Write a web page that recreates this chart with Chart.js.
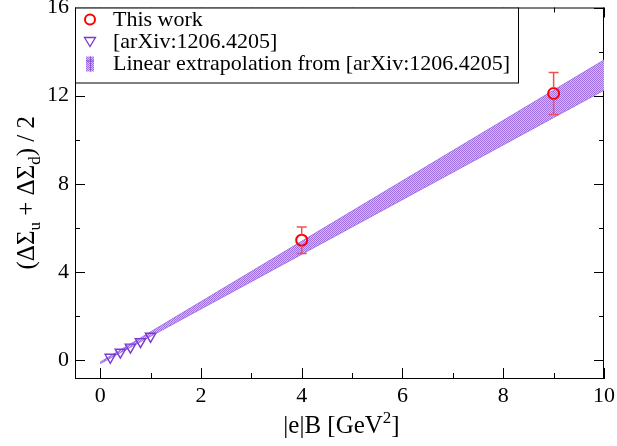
<!DOCTYPE html>
<html>
<head>
<meta charset="utf-8">
<script src="https://cdn.jsdelivr.net/npm/chart.js@4/dist/chart.umd.min.js"></script>
<style>
  body { margin: 0; background: #fff; }
  canvas { display: block; }
</style>
</head>
<body>
<canvas id="chart" width="617" height="446"></canvas>
<script>
// values
const thisWorkX = [4, 9];
const thisWorkY = [5.45, 12.1];
const thisWorkErr = [0.6, 0.95];

const arxivX = [0.2, 0.4, 0.6, 0.8, 1.0];
const arxivY = [0.14, 0.37, 0.6, 0.85, 1.09];

const bandX = [0, 10];
const bandLow = [-0.15, 12.25];
const bandHigh = [-0.08, 13.62];

const xTicks = [0, 2, 4, 6, 8, 10];
const xMinor = [1, 3, 5, 7, 9];
const yTicks = [0, 4, 8, 12, 16];
const yMinor = [2, 6, 10, 14];

const labels = ['This work', '[arXiv:1206.4205]', 'Linear extrapolation from [arXiv:1206.4205]'];

const serif = '"Liberation Serif", "Times New Roman", serif';
const red = '#ff0000';
const errRed = '#f05050';
const purple = '#7a38d0';

// checkered purple fill like the grace pattern
function makePattern() {
  const c = document.createElement('canvas');
  c.width = 4; c.height = 4;
  const g = c.getContext('2d');
  g.fillStyle = '#d2bcf5';
  g.fillRect(0, 0, 4, 4);
  g.fillStyle = '#a070e3';
  for (let i = 0; i < 4; i++) {
    for (let j = 0; j < 4; j++) {
      if ((i + j) % 2 === 0) g.fillRect(i, j, 1, 1);
    }
  }
  return document.getElementById('chart').getContext('2d').createPattern(c, 'repeat');
}
const bandFill = makePattern();

const pts = (xs, ys) => xs.map((x, i) => ({ x: x, y: ys[i] }));

const decorations = {
  id: 'decorations',
  beforeDatasetsDraw(chart) {
    const { ctx, chartArea: a, scales: { x, y } } = chart;
    ctx.save();
    ctx.strokeStyle = '#000';
    ctx.lineWidth = 1;
    ctx.beginPath();
    ctx.moveTo(a.left, a.top + 0.5); ctx.lineTo(a.right, a.top + 0.5);
    ctx.moveTo(a.right - 0.5, a.top); ctx.lineTo(a.right - 0.5, a.bottom);
    const tick = (vals, len) => {
      vals.forEach(v => {
        const px = Math.round(x.getPixelForValue(v)) + 0.5;
        ctx.moveTo(px, a.bottom); ctx.lineTo(px, a.bottom - len);
        ctx.moveTo(px, a.top); ctx.lineTo(px, a.top + len);
      });
    };
    const ytick = (vals, len) => {
      vals.forEach(v => {
        const py = Math.round(y.getPixelForValue(v)) + 0.5;
        ctx.moveTo(a.left, py); ctx.lineTo(a.left + len, py);
        ctx.moveTo(a.right, py); ctx.lineTo(a.right - len, py);
      });
    };
    tick(xTicks, 10); tick(xMinor, 5);
    ytick(yTicks, 10); ytick(yMinor, 5);
    ctx.stroke();
    ctx.restore();
  },
  afterDatasetsDraw(chart) {
    const { ctx, scales: { x, y } } = chart;
    ctx.save();
    // error bars
    ctx.strokeStyle = errRed;
    ctx.lineWidth = 1.5;
    thisWorkX.forEach((v, i) => {
      const px = x.getPixelForValue(v);
      const top = y.getPixelForValue(thisWorkY[i] + thisWorkErr[i]);
      const bot = y.getPixelForValue(thisWorkY[i] - thisWorkErr[i]);
      const cy = y.getPixelForValue(thisWorkY[i]);
      ctx.beginPath();
      ctx.moveTo(px, top); ctx.lineTo(px, cy - 5.5);
      ctx.moveTo(px, cy + 5.5); ctx.lineTo(px, bot);
      ctx.moveTo(px - 5, top); ctx.lineTo(px + 5, top);
      ctx.moveTo(px - 5, bot); ctx.lineTo(px + 5, bot);
      ctx.stroke();
    });
    ctx.restore();
  },
  afterDraw(chart) {
    const { ctx, chartArea: a } = chart;
    ctx.save();
    // legend box
    const lx = a.left, ly = a.top, lw = 443, lh = 75;
    ctx.fillStyle = '#fff';
    ctx.fillRect(lx, ly, lw, lh);
    ctx.strokeStyle = '#000';
    ctx.lineWidth = 1;
    ctx.strokeRect(lx + 0.5, ly + 0.5, lw, lh);
    const rows = [ly + 12, ly + 34, ly + 56];
    const mx = lx + 15;
    // circle
    ctx.strokeStyle = red; ctx.lineWidth = 2;
    ctx.beginPath(); ctx.arc(mx, rows[0], 5, 0, Math.PI * 2); ctx.stroke();
    // triangle
    ctx.strokeStyle = purple; ctx.lineWidth = 1.3;
    ctx.beginPath();
    ctx.moveTo(mx - 5.5, rows[1] - 4); ctx.lineTo(mx + 5.5, rows[1] - 4); ctx.lineTo(mx, rows[1] + 5);
    ctx.closePath(); ctx.stroke();
    // band swatch
    ctx.fillStyle = bandFill;
    ctx.fillRect(mx - 4, rows[2] - 7, 8, 15);
    ctx.strokeStyle = '#8a55d8'; ctx.lineWidth = 1;
    ctx.beginPath();
    ctx.moveTo(mx + 0.5, rows[2] - 7); ctx.lineTo(mx + 0.5, rows[2] + 8);
    ctx.moveTo(mx - 4, rows[2] - 2.5); ctx.lineTo(mx + 4, rows[2] - 2.5);
    ctx.stroke();
    ctx.fillStyle = '#000';
    ctx.font = '22px ' + serif;
    ctx.textBaseline = 'middle';
    labels.forEach((t, i) => ctx.fillText(t, lx + 38, rows[i] + 1));

    // x title with superscript
    ctx.textBaseline = 'alphabetic';
    const big = '25px ' + serif, small = '17px ' + serif;
    ctx.font = big;
    const p1 = '|e|B [GeV', p3 = ']';
    const w1 = ctx.measureText(p1).width, w3 = ctx.measureText(p3).width;
    ctx.font = small;
    const w2 = ctx.measureText('2').width;
    let sx = (a.left + a.right) / 2 - (w1 + w2 + w3) / 2 + 2;
    const by = 433;
    ctx.font = big; ctx.fillText(p1, sx, by);
    ctx.font = small; ctx.fillText('2', sx + w1, by - 10);
    ctx.font = big; ctx.fillText(p3, sx + w1 + w2, by);

    // y title with subscripts, rotated
    const parts = [['(ΔΣ', big, 0], ['u', small, 6], [' + ΔΣ', big, 0], ['d', small, 6], [') / 2', big, 0]];
    let total = 0;
    parts.forEach(p => { ctx.font = p[1]; p.push(ctx.measureText(p[0]).width); total += p[3]; });
    ctx.translate(34, (a.top + a.bottom) / 2);
    ctx.rotate(-Math.PI / 2);
    let cx = -total / 2;
    parts.forEach(p => { ctx.font = p[1]; ctx.fillText(p[0], cx, p[2]); cx += p[3]; });
    ctx.restore();
  }
};

new Chart(document.getElementById('chart'), {
  type: 'scatter',
  data: {
    datasets: [
      {
        label: labels[2] + ' low',
        type: 'line',
        data: pts(bandX, bandLow),
        borderColor: '#a478e4',
        borderWidth: 1,
        pointRadius: 0,
        fill: false,
        order: 3
      },
      {
        label: labels[2],
        type: 'line',
        data: pts(bandX, bandHigh),
        borderColor: '#a478e4',
        borderWidth: 1,
        pointRadius: 0,
        backgroundColor: bandFill,
        fill: '-1',
        order: 3
      },
      {
        label: labels[1],
        data: pts(arxivX, arxivY),
        pointStyle: 'triangle',
        rotation: 180,
        radius: 6,
        borderColor: purple,
        backgroundColor: 'rgba(0,0,0,0)',
        borderWidth: 1.4,
        order: 2
      },
      {
        label: labels[0],
        data: pts(thisWorkX, thisWorkY),
        pointStyle: 'circle',
        radius: 5.5,
        borderColor: red,
        backgroundColor: 'rgba(0,0,0,0)',
        borderWidth: 2,
        order: 1
      }
    ]
  },
  options: {
    responsive: false,
    animation: false,
    devicePixelRatio: 1,
    layout: { padding: { top: 7, right: 13, left: 0, bottom: 0 } },
    plugins: { legend: { display: false }, tooltip: { enabled: false } },
    scales: {
      x: {
        type: 'linear',
        min: -0.5,
        max: 10,
        grid: { display: false, drawTicks: false },
        border: { display: true, color: '#000', width: 1 },
        ticks: { color: '#000', font: { family: serif, size: 22 }, padding: 5, maxRotation: 0 },
        afterBuildTicks: s => { s.ticks = xTicks.map(v => ({ value: v })); },
        afterFit: s => { s.height = 68; s.paddingLeft = 0; s.paddingRight = 0; }
      },
      y: {
        type: 'linear',
        min: -0.8,
        max: 16,
        grid: { display: false, drawTicks: false },
        border: { display: true, color: '#000', width: 1 },
        ticks: { color: '#000', font: { family: serif, size: 22 }, padding: 6 },
        afterBuildTicks: s => { s.ticks = yTicks.map(v => ({ value: v })); },
        afterFit: s => { s.width = 75; s.paddingTop = 0; s.paddingBottom = 0; }
      }
    }
  },
  plugins: [decorations]
});
</script>
</body>
</html>
